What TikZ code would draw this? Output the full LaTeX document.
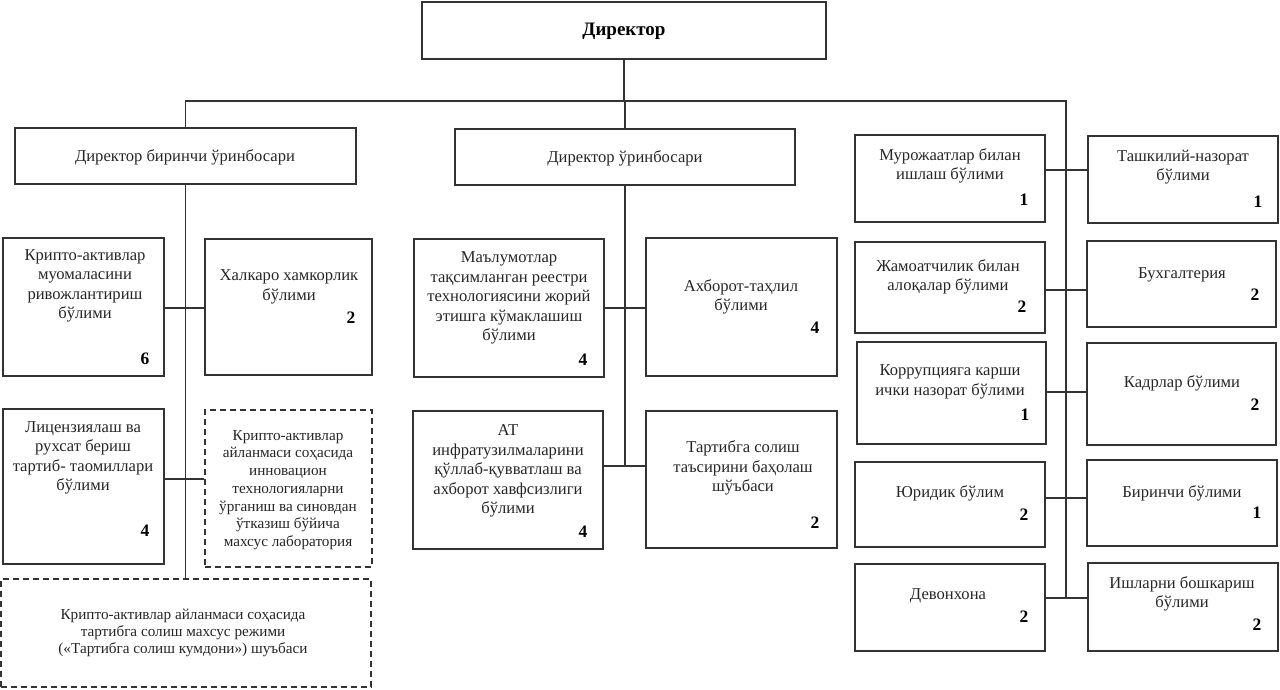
\documentclass[tikz,border=0pt]{standalone}
\usepackage{fontspec}
\setmainfont{Liberation Serif}
\usetikzlibrary{fit}
\definecolor{ln}{HTML}{333333}
\definecolor{tx}{HTML}{262626}
\tikzset{
  x=1pt, y=-1pt,
  unit/.style={draw=ln, line width=1.6pt, inner sep=0pt, rectangle},
  dunit/.style={draw=ln, line width=2pt, dash pattern=on 6pt off 4pt, inner sep=0pt, rectangle},
  txt/.style={text=tx, align=center, inner sep=0pt, font=\fontsize{16.6}{19.5}\selectfont},
  txtsm/.style={text=tx, align=center, inner sep=0pt, font=\fontsize{15.2}{17.7}\selectfont},
  txtxs/.style={text=tx, align=center, inner sep=0pt, font=\fontsize{15.2}{16.8}\selectfont},
  num/.style={text=black, inner sep=0pt, font=\fontsize{17.5}{19}\selectfont\bfseries},
  conn/.style={draw=ln, line width=1.6pt},
}
\begin{document}
\begin{tikzpicture}
\useasboundingbox (0,0) rectangle (1280,690);
% boxes
\node[unit, fit={(422,2) (826,59)}] (dir) {};
\node[unit, fit={(15,128) (356,184)}] (d1) {};
\node[unit, fit={(455,129) (795,185)}] (d2) {};
\node[unit, fit={(3,238) (164,376)}] (l1) {};
\node[unit, fit={(205,239) (372,375)}] (l2) {};
\node[unit, fit={(3,409) (164,564)}] (l3) {};
\node[dunit, fit={(205,410) (372,567)}] (l4) {};
\node[dunit, fit={(1,579) (371,687)}] (l5) {};
\node[unit, fit={(414,239) (604,377)}] (m1) {};
\node[unit, fit={(646,238) (837,376)}] (m2) {};
\node[unit, fit={(413,411) (603,549)}] (m3) {};
\node[unit, fit={(646,411) (837,548)}] (m4) {};
\node[unit, fit={(855,135) (1045,222)}] (ra1) {};
\node[unit, fit={(1088,136) (1278,223)}] (rb1) {};
\node[unit, fit={(855,242) (1045,333)}] (ra2) {};
\node[unit, fit={(1087,241) (1276,327)}] (rb2) {};
\node[unit, fit={(857,342) (1046,444)}] (ra3) {};
\node[unit, fit={(1087,343) (1276,445)}] (rb3) {};
\node[unit, fit={(855,462) (1045,547)}] (ra4) {};
\node[unit, fit={(1087,460) (1277,546)}] (rb4) {};
\node[unit, fit={(855,564) (1045,651)}] (ra5) {};
\node[unit, fit={(1088,563) (1278,651)}] (rb5) {};
% texts
\node[txt, font=\fontsize{19}{21}\selectfont\bfseries, text=black] (dirt) at (624,31) {Директор};
\node[txt] (d1t) at (185,157) {Директор биринчи ўринбосари};
\node[txt] (d2t) at (625,158) {Директор ўринбосари};
\node[txt] (l1t) at (85,286) {Крипто-активлар\\муомаласини\\ривожлантириш\\бўлими};
\node[num] (l1n) at (145,359) {6};
\node[txt] (l2t) at (289,287) {Халкаро хамкорлик\\бўлими};
\node[num] (l2n) at (351,318) {2};
\node[txt] (l3t) at (83,458) {Лицензиялаш ва\\рухсат бериш\\тартиб- таомиллари\\бўлими};
\node[num] (l3n) at (145,531) {4};
\node[txtsm] (l4t) at (288,490) {Крипто-активлар\\айланмаси соҳасида\\инновацион\\технологияларни\\ўрганиш ва синовдан\\ўтказиш бўйича\\махсус лаборатория};
\node[txtxs] (l5t) at (183,633) {Крипто-активлар айланмаси соҳасида\\тартибга солиш махсус режими\\(«Тартибга солиш кумдони») шуъбаси};
\node[txt] (m1t) at (509,298) {Маълумотлар\\тақсимланган реестри\\технологиясини жорий\\этишга кўмаклашиш\\бўлими};
\node[num] (m1n) at (583,360) {4};
\node[txt] (m2t) at (741,297) {Ахборот-таҳлил\\бўлими};
\node[num] (m2n) at (815,328) {4};
\node[txt] (m3t) at (508,471) {АТ\\инфратузилмаларини\\қўллаб-қувватлаш ва\\ахборот хавфсизлиги\\бўлими};
\node[num] (m3n) at (583,532) {4};
\node[txt] (m4t) at (743,468) {Тартибга солиш\\таъсирини баҳолаш\\шўъбаси};
\node[num] (m4n) at (815,523) {2};
\node[txt] (ra1t) at (950,166) {Мурожаатлар билан\\ишлаш бўлими};
\node[num] (ra1n) at (1024,200) {1};
\node[txt] (rb1t) at (1183,167) {Ташкилий-назорат\\бўлими};
\node[num] (rb1n) at (1258,202) {1};
\node[txt] (ra2t) at (948,277) {Жамоатчилик билан\\алоқалар бўлими};
\node[num] (ra2n) at (1022,307) {2};
\node[txt] (rb2t) at (1182,275) {Бухгалтерия};
\node[num] (rb2n) at (1255,295) {2};
\node[txt] (ra3t) at (950,382) {Коррупцияга карши\\ички назорат бўлими};
\node[num] (ra3n) at (1025,415) {1};
\node[txt] (rb3t) at (1182,383) {Кадрлар бўлими};
\node[num] (rb3n) at (1255,405) {2};
\node[txt] (ra4t) at (950,493) {Юридик бўлим};
\node[num] (ra4n) at (1024,515) {2};
\node[txt] (rb4t) at (1182,493) {Биринчи бўлими};
\node[num] (rb4n) at (1257,513) {1};
\node[txt] (ra5t) at (948,596) {Девонхона};
\node[num] (ra5n) at (1024,617) {2};
\node[txt] (rb5t) at (1182,594) {Ишларни бошкариш\\бўлими};
\node[num] (rb5n) at (1257,625) {2};
% connector levels
\coordinate (bus) at (0,101);
\coordinate (busR) at (1066,101);
\coordinate (yl1) at (0,308);
\coordinate (yl2) at (0,479);
\coordinate (ym1) at (0,308);
\coordinate (ym2) at (0,466);
\coordinate (yr1) at (0,170);
\coordinate (yr2) at (0,290);
\coordinate (yr3) at (0,392);
\coordinate (yr4) at (0,498);
\coordinate (yr5) at (0,598);
% connectors
\draw[conn] (dir.south) -- (dir.south |- bus);
\draw[conn] (d1.north) |- (busR) -- (busR |- yr5);
\draw[conn] (d2.north) -- (d2.north |- bus);
\draw[conn] (d1.south) -- (d1.south |- l5.north);
\draw[conn] (d2.south) -- (d2.south |- ym2);
\draw[conn] (l1.east |- yl1) -- (l2.west |- yl1);
\draw[conn] (l3.east |- yl2) -- (l4.west |- yl2);
\draw[conn] (m1.east |- ym1) -- (m2.west |- ym1);
\draw[conn] (m3.east |- ym2) -- (m4.west |- ym2);
\draw[conn] (ra1.east |- yr1) -- (rb1.west |- yr1);
\draw[conn] (ra2.east |- yr2) -- (rb2.west |- yr2);
\draw[conn] (ra3.east |- yr3) -- (rb3.west |- yr3);
\draw[conn] (ra4.east |- yr4) -- (rb4.west |- yr4);
\draw[conn] (ra5.east |- yr5) -- (rb5.west |- yr5);
\end{tikzpicture}
\end{document}
